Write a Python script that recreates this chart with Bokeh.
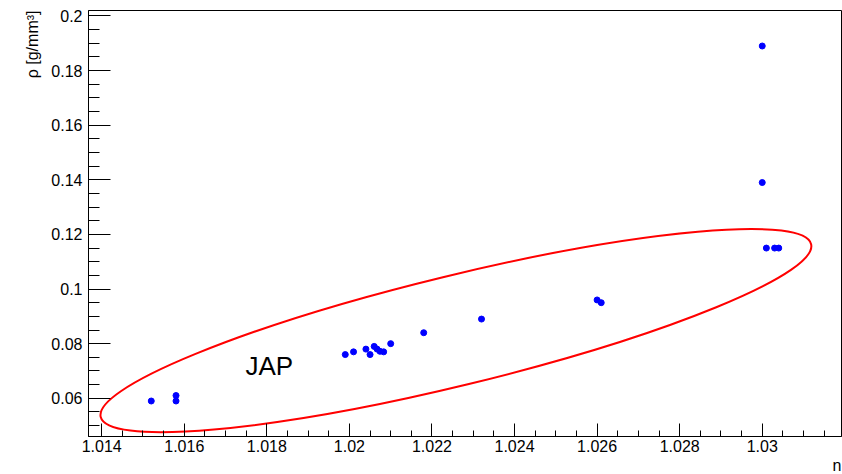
import math
from bokeh.plotting import figure
from bokeh.models import Range1d, SingleIntervalTicker, CustomJSTickFormatter, Label, Title
from bokeh.embed import file_html
from bokeh.resources import INLINE

# ---- data ----
n_vals = [1.0152, 1.0158, 1.0158,
          1.0199, 1.0201, 1.0204, 1.0205, 1.0206, 1.02067, 1.02074, 1.02083, 1.0210,
          1.0218, 1.0232, 1.0260, 1.0261,
          1.0300, 1.0300, 1.0301, 1.0303, 1.0304]
rho_vals = [0.059, 0.061, 0.059,
            0.076, 0.077, 0.078, 0.076, 0.079, 0.078, 0.0772, 0.077, 0.080,
            0.084, 0.089, 0.096, 0.095,
            0.189, 0.139, 0.115, 0.115, 0.115]

x_label = "n"
y_label = "ρ [g/mm³]"
group_label = "JAP"
group_label_pos = (1.01748, 0.0719)

# ellipse (TEllipse-like): centre, full width (x units), full height (y units), angle
ell_center = (1.02258, 0.08478)
ell_width = 0.01771
ell_height = 0.04028
ell_angle_deg = 13.67

# axis ranges (ROOT style: data range +/- 10%)
x_lo, x_hi = min(n_vals), max(n_vals)
y_lo, y_hi = min(rho_vals), max(rho_vals)
x_pad = 0.1 * (x_hi - x_lo)
y_pad = 0.1 * (y_hi - y_lo)

FONT = "Liberation Sans"

p = figure(width=842, height=474,
           x_range=Range1d(x_lo - x_pad, x_hi + x_pad),
           y_range=Range1d(y_lo - y_pad, y_hi + y_pad),
           output_backend="svg", toolbar_location=None,
           min_border_left=88, min_border_right=1,
           min_border_top=10, min_border_bottom=37)
p.grid.visible = False
p.outline_line_color = "black"
p.outline_line_width = 1
p.background_fill_color = "white"
p.border_fill_color = "white"

fmt = CustomJSTickFormatter(code="return parseFloat(tick.toFixed(4)).toString();")

xa = p.xaxis[0]
xa.ticker = SingleIntervalTicker(interval=0.002, num_minor_ticks=4)
xa.formatter = fmt
xa.major_tick_in = 13
xa.major_tick_out = 0
xa.minor_tick_in = 6
xa.minor_tick_out = 0
xa.major_label_standoff = 3

ya = p.yaxis[0]
ya.ticker = SingleIntervalTicker(interval=0.02, num_minor_ticks=4)
ya.formatter = fmt
ya.major_tick_in = 22
ya.major_tick_out = 0
ya.minor_tick_in = 11
ya.minor_tick_out = 0
ya.major_label_standoff = 6

for ax in (xa, ya):
    ax.axis_line_color = "black"
    ax.major_tick_line_color = "black"
    ax.minor_tick_line_color = "black"
    ax.major_label_text_font = FONT
    ax.major_label_text_font_size = "16px"
    ax.major_label_text_color = "black"

# axis titles at the end of each axis (ROOT style)
p.add_layout(Title(text=y_label, align="right", text_font=FONT, text_font_size="16px",
                   text_font_style="normal", text_color="black",
                   standoff=16, offset=0), "left")
p.add_layout(Title(text=x_label, align="right", text_font=FONT, text_font_size="16px",
                   text_font_style="normal", text_color="black",
                   standoff=1, offset=0), "below")

# ellipse
p.ellipse(x=[ell_center[0]], y=[ell_center[1]], width=[ell_width], height=[ell_height],
          angle=math.radians(ell_angle_deg), fill_alpha=0,
          line_color="#ff0000", line_width=2)

# points
p.scatter(n_vals, rho_vals, size=6, marker="circle",
          fill_color="#0000ff", line_color="#0000ff")

# JAP text
p.add_layout(Label(x=group_label_pos[0], y=group_label_pos[1], text=group_label,
                   text_font=FONT, text_font_size="26px", text_color="black",
                   text_align="left", text_baseline="alphabetic"))

open("out.html", "w").write(file_html(p, INLINE))
